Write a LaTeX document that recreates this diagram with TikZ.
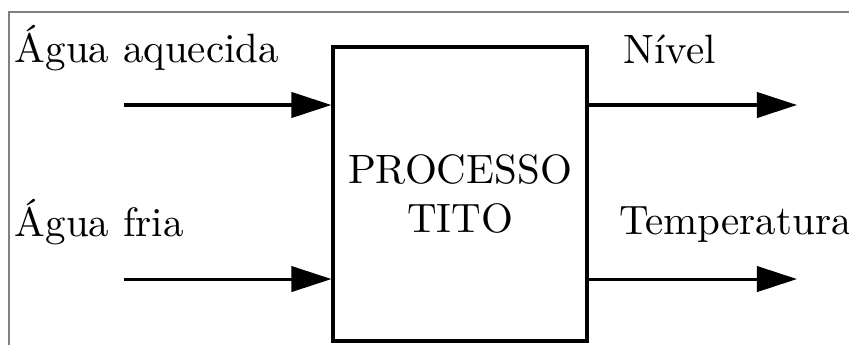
\documentclass[tikz,border=0pt]{standalone}
\usepackage{amsmath}
\usepackage{amssymb}
\usetikzlibrary{arrows.meta}

\begin{document}
\begin{tikzpicture}[scale=0.2]
\tikzstyle{every node}+=[inner sep=0pt]
\tikzstyle{sinal}=[black, line width=0.75pt, -{Triangle[length=9.8pt,width=6.2pt]}]
\useasboundingbox (0,0) rectangle (36.39,-14.79);
\draw [gray, line width=0.3pt] (36.39,-0.51) -- (0.39,-0.51) -- (0.39,-14.79);
\node [draw=black, line width=0.75pt, minimum width=61.95pt, minimum height=71.7pt, align=center] (proc) at (19.715,-8.315) {PROCESSO\\TITO};
\draw (0.6,-2.66) node [anchor=base west] (aquecida) {Água aquecida};
\draw (0.6,-10.12) node [anchor=base west] (fria) {Água fria};
\draw (26.7,-2.7) node [anchor=base west] (nivel) {Nível};
\draw (26.5,-10.07) node [anchor=base west] (temp) {Temperatura};
\coordinate (entQ) at (5.31,-4.5);
\coordinate (entF) at (5.31,-11.96);
\coordinate (saiN) at (34.16,-4.5);
\coordinate (saiT) at (34.16,-11.96);
\draw [sinal] (entQ) -- (entQ -| proc.west);
\draw [sinal] (entF) -- (entF -| proc.west);
\draw [sinal] (proc.east |- saiN) -- (saiN);
\draw [sinal] (proc.east |- saiT) -- (saiT);
\end{tikzpicture}
\end{document}
